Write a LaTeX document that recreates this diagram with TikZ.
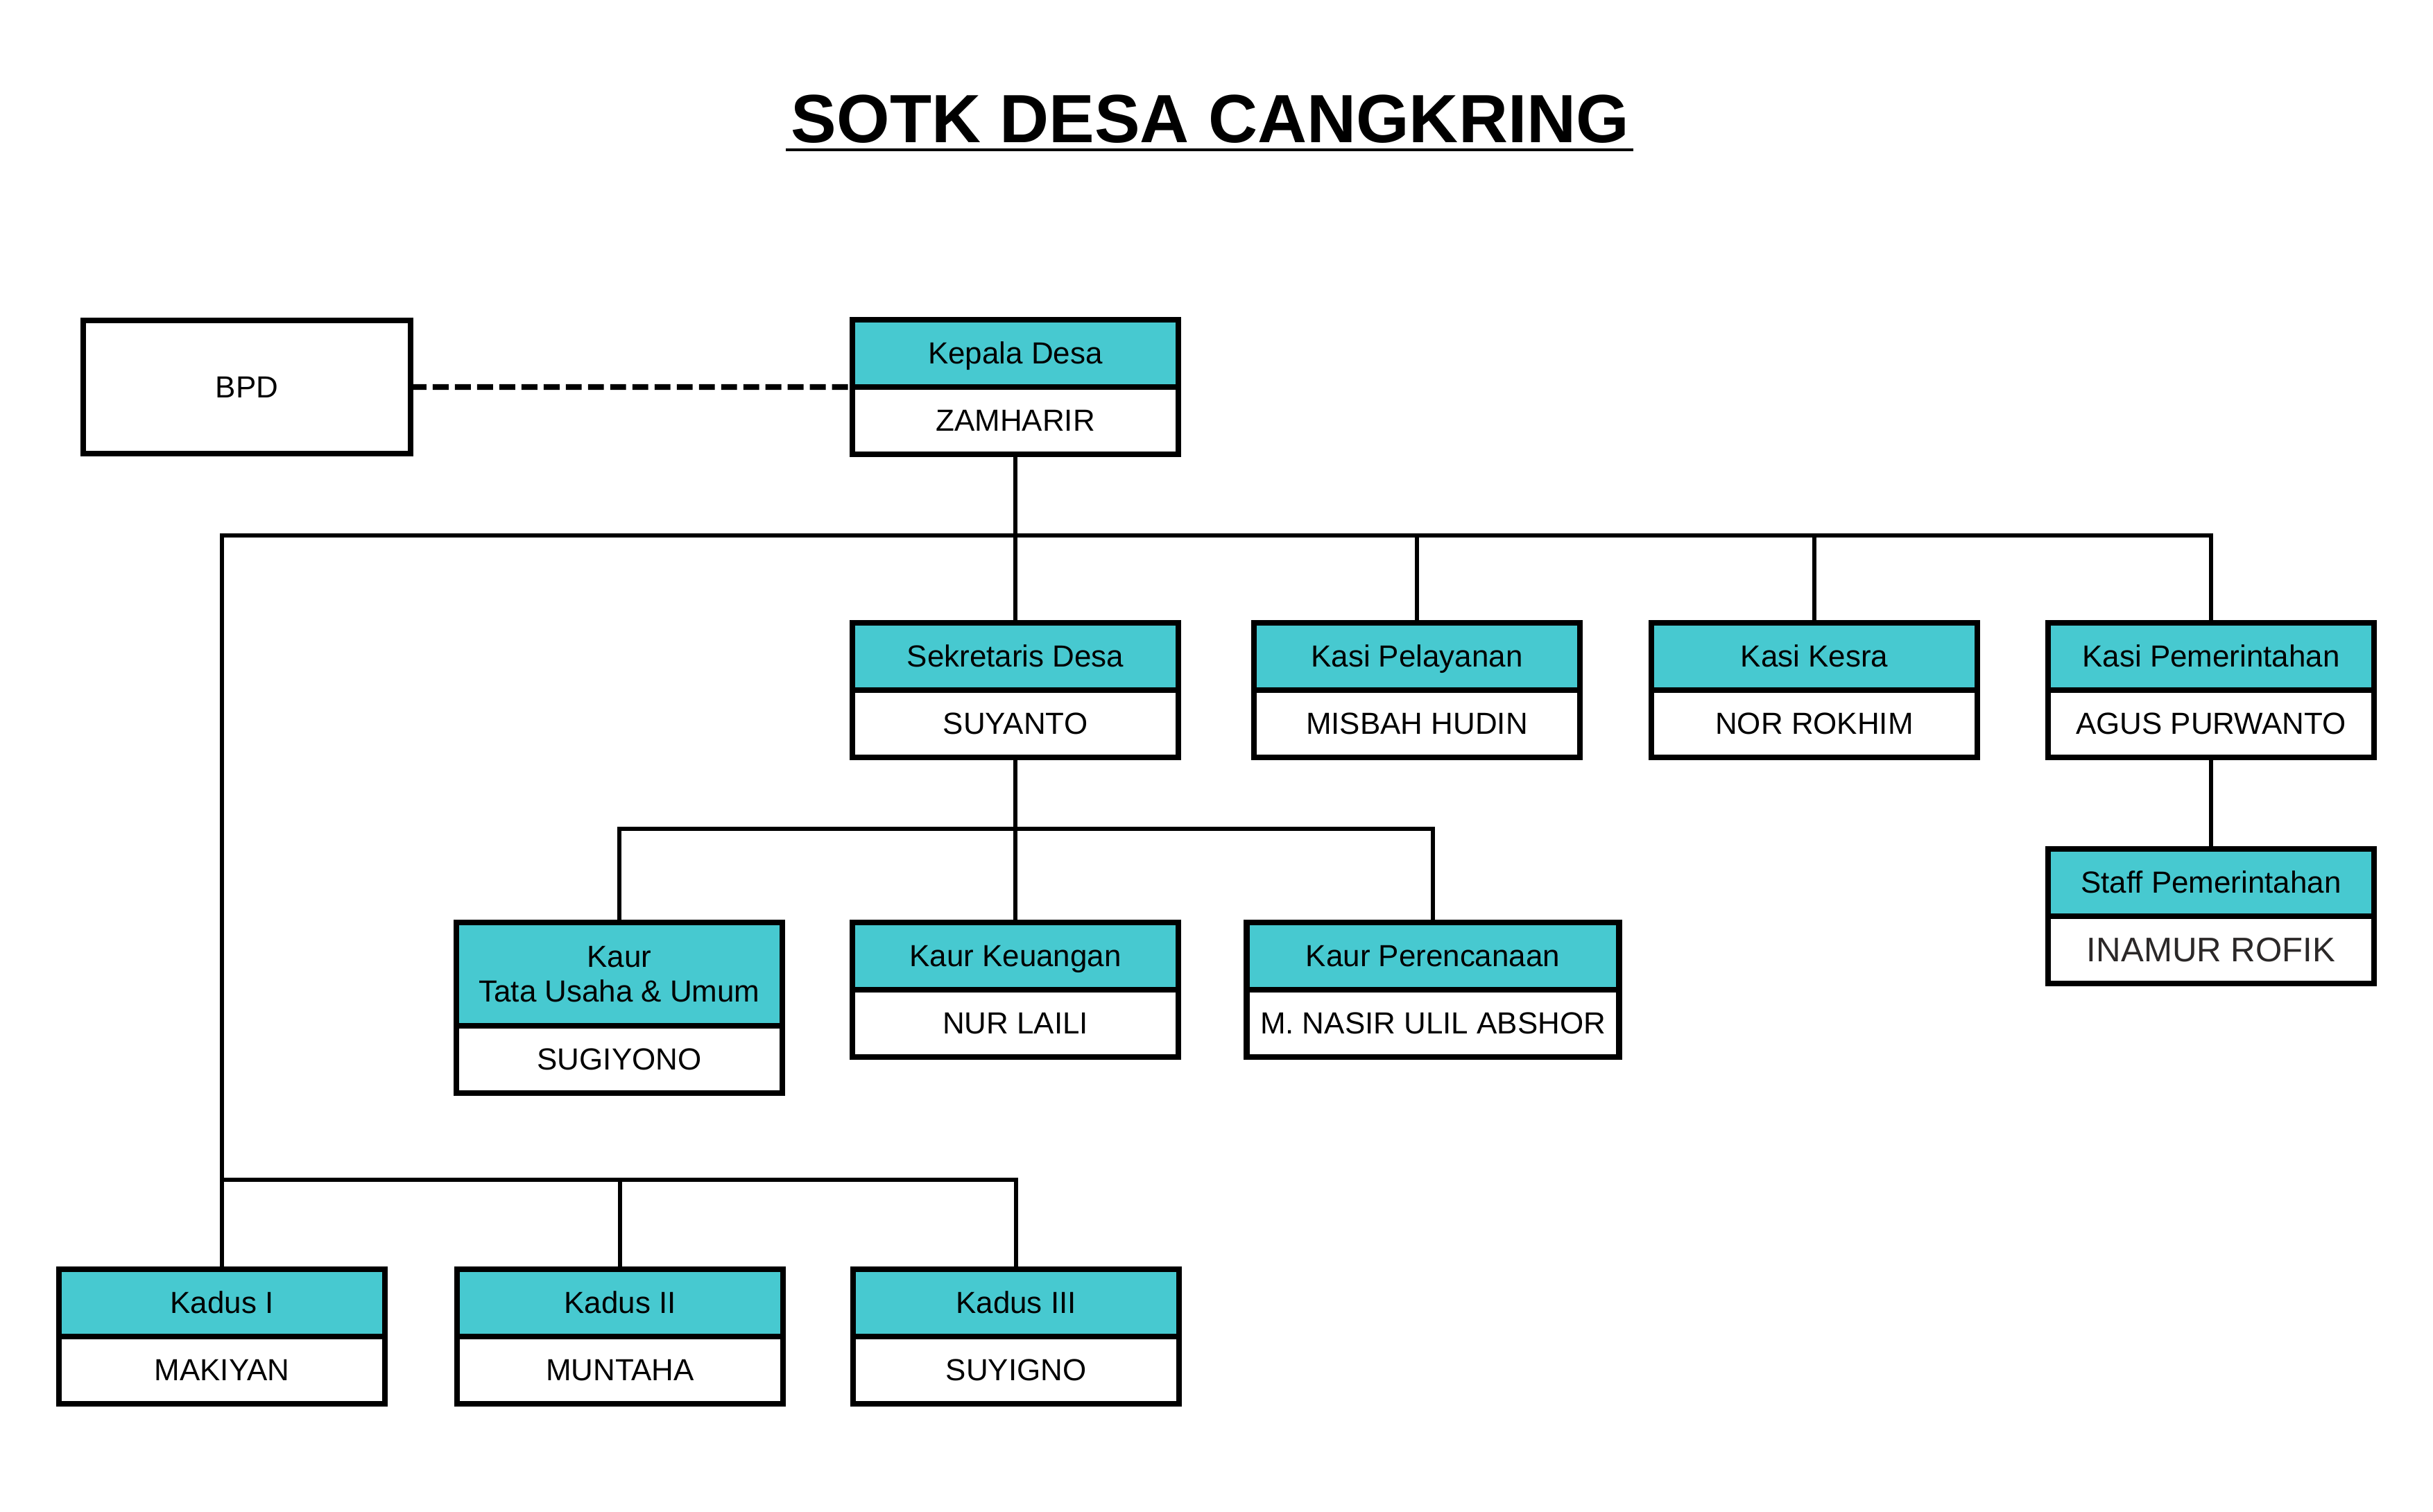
\documentclass[tikz,border=0pt]{standalone}
\usepackage{fontspec}
\setmainfont{Liberation Sans}
\definecolor{tosca}{RGB}{71,201,208}
\definecolor{darkgraytext}{RGB}{43,40,40}
\tikzset{
  boxbase/.style={draw=black, line width=2.3pt, inner sep=0pt, outer sep=0pt, align=center,
    minimum height=0.97cm, font=\fontsize{12.5}{14}\selectfont,
    text height=10pt, text depth=1.4pt},
  hdr/.style={boxbase, fill=tosca},
  bdy/.style={boxbase, fill=white},
  conn/.style={line width=1.9pt, line join=miter},
}
\newcommand\obox[6][4.70]{%
  \node[hdr, minimum width=#1cm, anchor=north] (#2h) at (#3,#4) {#5};
  \node[bdy, minimum width=#1cm, anchor=north] (#2b) at (#2h.south) {#6};
}
\begin{document}
\begin{tikzpicture}
\useasboundingbox (0,0) rectangle (35.08,-21.80);

% title
\node[anchor=base, inner sep=0pt, font=\fontsize{28}{32}\selectfont\bfseries] (title) at (17.45,-2.06) {SOTK DESA CANGKRING};
\draw[line width=1.4pt] ([xshift=-0.07cm, yshift=-0.10cm]title.base west) -- ([xshift=0.05cm, yshift=-0.10cm]title.base east);

% BPD
\node[boxbase, minimum width=4.72cm, minimum height=1.92cm] (bpd) at (3.56,-5.58) {BPD};

% boxes
\obox{kd}{14.64}{-4.61}{Kepala Desa}{ZAMHARIR}
\obox{sek}{14.64}{-8.98}{Sekretaris Desa}{SUYANTO}
\obox{kpel}{20.43}{-8.98}{Kasi Pelayanan}{MISBAH HUDIN}
\obox{kkes}{26.16}{-8.98}{Kasi Kesra}{NOR ROKHIM}
\obox{kpem}{31.88}{-8.98}{Kasi Pemerintahan}{AGUS PURWANTO}
\node[hdr, minimum width=4.70cm, anchor=north] (staffh) at (31.88,-12.24) {Staff Pemerintahan};
\node[bdy, minimum width=4.70cm, anchor=north, font=\fontsize{14}{16}\selectfont, text=darkgraytext,
  text height=11pt, text depth=1.4pt] (staffb) at (staffh.south) {INAMUR ROFIK};

\node[hdr, minimum width=4.70cm, minimum height=1.49cm, anchor=north, text height={}, text depth={}] (kturh) at (8.93,-13.30) {Kaur\\Tata Usaha \& Umum};
\node[bdy, minimum width=4.70cm, anchor=north] (ktub) at (kturh.south) {SUGIYONO};
\obox{kkeu}{14.64}{-13.30}{Kaur Keuangan}{NUR LAILI}
\obox[5.37]{kper}{20.66}{-13.30}{Kaur Perencanaan}{M. NASIR ULIL ABSHOR}

\obox{kad1}{3.20}{-18.30}{Kadus I}{MAKIYAN}
\obox{kad2}{8.94}{-18.30}{Kadus II}{MUNTAHA}
\obox{kad3}{14.65}{-18.30}{Kadus III}{SUYIGNO}

% connectors
\coordinate (j0) at (0,-7.72);
\coordinate (j1) at (0,-11.95);
\coordinate (j2) at (0,-17.01);

\draw[line width=2.3pt, dash pattern=on 6.5pt off 2.6pt] (bpd.east) -- (kdh.south west);

\draw[conn] (kdb.south) -- (sekh.north);
\draw[conn] (kad1h.north) -- (kad1h.north |- j0) -- (kpemh.north |- j0) -- (kpemh.north);
\draw[conn] (kpelh.north) -- (kpelh.north |- j0);
\draw[conn] (kkesh.north) -- (kkesh.north |- j0);
\draw[conn] (kpemb.south) -- (staffh.north);

\draw[conn] (sekb.south) -- (kkeuh.north);
\draw[conn] (kturh.north) -- (kturh.north |- j1) -- (kperh.north |- j1) -- (kperh.north);

\draw[conn] (kad1h.north |- j2) -- (kad3h.north |- j2) -- (kad3h.north);
\draw[conn] (kad2h.north) -- (kad2h.north |- j2);
\end{tikzpicture}
\end{document}
